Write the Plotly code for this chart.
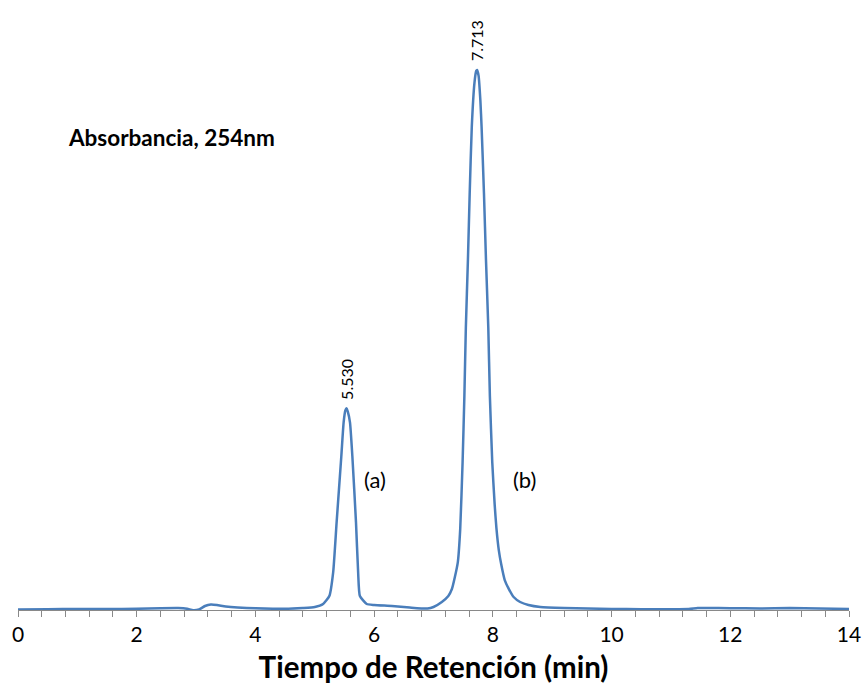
import plotly.graph_objects as go

# Retention time (min) and absorbance (arbitrary units)
time_min = [
    0.0, 0.5, 1.0, 1.5, 2.0, 2.4, 2.7, 2.85, 2.95, 3.05, 3.15, 3.25, 3.35, 3.5, 3.7, 4.0,
    4.5, 4.8, 5.0, 5.14, 5.245, 5.31, 5.368, 5.447, 5.486, 5.515, 5.535, 5.555, 5.593,
    5.633, 5.694, 5.73, 5.76, 5.875, 6.0, 6.3, 6.6, 6.9, 7.0, 7.14, 7.25, 7.31, 7.36,
    7.41, 7.45, 7.49, 7.52, 7.545, 7.58, 7.61, 7.645, 7.69, 7.72, 7.735, 7.76, 7.79,
    7.81, 7.85, 7.884, 7.923, 7.95, 7.99, 8.03, 8.06, 8.10, 8.14, 8.20, 8.27, 8.35,
    8.46, 8.6, 8.8, 9.2, 9.6, 10.0, 10.5, 11.0, 11.3, 11.45, 11.6, 12.0, 12.5, 13.0,
    13.5, 14.0,
]
absorbance = [
    0.5, 0.8, 1.0, 1.0, 1.2, 1.8, 2.0, 1.2, -0.3, 0.5, 4.0, 5.5, 5.0, 3.5, 2.5, 1.8,
    1.2, 2.0, 3.0, 6.0, 14, 38, 88, 154, 188, 200, 202, 199, 188,
    154, 88, 38, 14, 6, 5, 4, 2.5, 1.5, 3, 8, 14, 21, 33,
    48, 81, 148, 214, 283, 351, 418, 484, 528, 540, 541, 535, 510,
    484, 418, 351, 283, 214, 148, 106, 82, 60, 46, 30, 21, 13,
    8, 5, 3, 2, 1.5, 1.0, 0.8, 0.8, 1.0, 2.0, 2.0, 1.8, 1.5, 2.0,
    1.5, 1.0,
]

peak_times = [5.535, 7.735]
peak_heights = [202, 541]
peak_labels = ["5.530", "7.713"]

compound_labels = ["(a)", "(b)"]
compound_x = [6.01, 8.54]
compound_y = [131, 131]

x_ticks = [0, 2, 4, 6, 8, 10, 12, 14]

FONT = "Lato, Open Sans, sans-serif"

W, H = 865, 688
L, R, T, B = 18, 16, 11, 78

fig = go.Figure()
fig.add_trace(go.Scatter(
    x=time_min, y=absorbance, mode="lines",
    line=dict(color="#4A7EBB", width=2.5, shape="spline", smoothing=0.5),
    showlegend=False, hoverinfo="skip",
))

for t, h, lab in zip(peak_times, peak_heights, peak_labels):
    fig.add_annotation(x=t, y=h, text=lab, showarrow=False, textangle=-90,
                       xanchor="center", yanchor="middle", yshift=29,
                       font=dict(family=FONT, size=16, color="#000000"))

for t, h, lab in zip(compound_x, compound_y, compound_labels):
    fig.add_annotation(x=t, y=h, text=lab, showarrow=False,
                       xanchor="center", yanchor="middle",
                       font=dict(family=FONT, size=22, color="#000000"))

fig.add_annotation(x=(66 - L) / (W - L - R), y=(H - B - 137) / (H - T - B),
                   xref="paper", yref="paper", text="<b>Absorbancia, 254nm</b>",
                   showarrow=False, xanchor="left", yanchor="middle",
                   font=dict(family=FONT, size=22.5, color="#000000"))

fig.update_layout(
    width=W, height=H,
    margin=dict(l=L, r=R, t=T, b=B),
    paper_bgcolor="white", plot_bgcolor="white",
    xaxis=dict(
        range=[0, 14], tickvals=x_ticks, ticktext=[str(v) for v in x_ticks],
        automargin=False,
        showline=True, linecolor="#898989", linewidth=1,
        ticks="outside", ticklen=6, tickcolor="#898989", tickwidth=1,
        minor=dict(dtick=0.4, tick0=0, ticks="outside", ticklen=6,
                   tickcolor="#898989", tickwidth=1, showgrid=False),
        showgrid=False, zeroline=False,
        tickfont=dict(family=FONT, size=21, color="#000000"),
        title=dict(text="<b>Tiempo de Retención (min)</b>", standoff=12,
                   font=dict(family=FONT, size=29.5, color="#000000")),
    ),
    yaxis=dict(range=[0, 600], visible=False, showgrid=False, zeroline=False,
               automargin=False),
)

fig.write_html("out.html")
